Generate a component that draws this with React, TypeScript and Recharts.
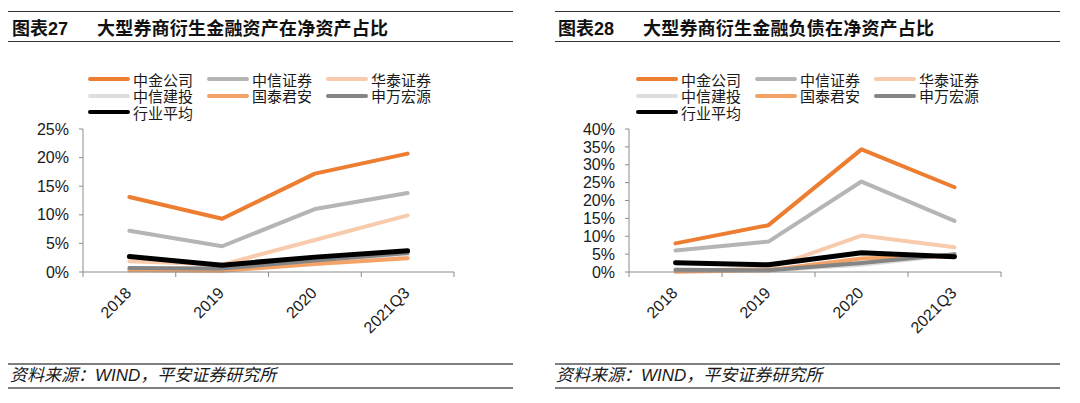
import React from 'react';
import { LineChart, Line, XAxis, YAxis } from 'recharts';

const CATEGORIES = ['2018', '2019', '2020', '2021Q3'];
const SERIES_NAMES = ['中金公司', '中信证券', '华泰证券', '中信建投', '国泰君安', '申万宏源', '行业平均'];
const SERIES_KEYS = ['zj', 'zx', 'ht', 'zxjt', 'gtja', 'sw', 'avg'];
const COLORS = ['#ED7D31', '#B5B5B5', '#F8CBAD', '#DEDEDE', '#F4A266', '#858585', '#000000'];

// 衍生金融资产 / 净资产 (%)
const ASSET_ZJ = [13.1, 9.3, 17.2, 20.7];
const ASSET_ZX = [7.2, 4.5, 11.0, 13.8];
const ASSET_HT = [1.9, 1.3, 5.6, 9.9];
const ASSET_ZXJT = [0.5, 0.3, 1.6, 3.0];
const ASSET_GTJA = [0.3, 0.2, 1.4, 2.4];
const ASSET_SW = [0.7, 0.6, 2.0, 3.3];
const ASSET_AVG = [2.7, 1.2, 2.6, 3.7];

// 衍生金融负债 / 净资产 (%)
const LIAB_ZJ = [8.0, 13.1, 34.3, 23.7];
const LIAB_ZX = [6.0, 8.5, 25.3, 14.3];
const LIAB_HT = [0.2, 1.0, 10.2, 6.9];
const LIAB_ZXJT = [0.5, 0.4, 2.0, 4.8];
const LIAB_GTJA = [0.1, 0.5, 3.8, 4.5];
const LIAB_SW = [0.6, 0.5, 2.5, 5.0];
const LIAB_AVG = [2.6, 2.0, 5.4, 4.3];

const ASSET_TICKS = [0, 5, 10, 15, 20, 25];
const LIAB_TICKS = [0, 5, 10, 15, 20, 25, 30, 35, 40];

const FONT = "'Liberation Sans', Arial, 'Noto Sans CJK SC', sans-serif";
const AXIS_COLOR = '#8c8c8c';

function buildRows(series: number[][]) {
  return CATEGORIES.map((cat, i) => {
    const row: Record<string, string | number> = { cat };
    SERIES_KEYS.forEach((k, j) => {
      row[k] = series[j][i];
    });
    return row;
  });
}

const assetRows = buildRows([ASSET_ZJ, ASSET_ZX, ASSET_HT, ASSET_ZXJT, ASSET_GTJA, ASSET_SW, ASSET_AVG]);
const liabRows = buildRows([LIAB_ZJ, LIAB_ZX, LIAB_HT, LIAB_ZXJT, LIAB_GTJA, LIAB_SW, LIAB_AVG]);

const makeTick = (bandW: number) => (props: any) => {
  const { x, y, payload, index } = props;
  const last = index === CATEGORIES.length - 1;
  return (
    <g>
      <line x1={x - bandW / 2} y1={y} x2={x - bandW / 2} y2={y + 5} stroke={AXIS_COLOR} />
      {last && <line x1={x + bandW / 2} y1={y} x2={x + bandW / 2} y2={y + 5} stroke={AXIS_COLOR} />}
      <text
        x={x + 3}
        y={y + 22}
        textAnchor="end"
        transform={`rotate(-45, ${x + 3}, ${y + 22})`}
        fontSize={16}
        fontFamily={FONT}
        fill="#1a1a1a"
      >
        {payload.value}
      </text>
    </g>
  );
};

interface PanelProps {
  left: number;
  num: string;
  title: string;
  rows: Record<string, string | number>[];
  ticks: number[];
  yWidth: number;
  rightMargin: number;
  legendX: number;
  titleX: number;
  nameX: number;
}

function Panel({ left, num, title, rows, ticks, yWidth, rightMargin, legendX, titleX, nameX }: PanelProps) {
  const chartW = 540;
  const bandW = (chartW - rightMargin - yWidth) / CATEGORIES.length;
  const ruleX = left ? 15 : 8;
  return (
    <div style={{ position: 'absolute', left, top: 0, width: 540, height: 403, fontFamily: FONT }}>
      <div style={{ position: 'absolute', left: ruleX, top: 11, width: 505, height: 0, borderTop: '1.5px solid #333' }} />
      <div style={{ position: 'absolute', left: titleX, top: 18, fontSize: 18, fontWeight: 'bold', lineHeight: '22px', color: '#111' }}>{num}</div>
      <div style={{ position: 'absolute', left: nameX, top: 18, fontSize: 18, fontWeight: 'bold', lineHeight: '22px', color: '#111', letterSpacing: 0.2 }}>{title}</div>
      <div style={{ position: 'absolute', left: ruleX, top: 41, width: 505, height: 0, borderTop: '1.5px solid #333' }} />

      {SERIES_NAMES.map((name, i) => (
        <div
          key={name}
          style={{
            position: 'absolute',
            left: legendX + (i % 3) * 119,
            top: 70 + Math.floor(i / 3) * 16.7,
            height: 18,
            display: 'flex',
            alignItems: 'center',
            fontSize: 15,
            color: '#1a1a1a',
            whiteSpace: 'nowrap',
          }}
        >
          <span style={{ display: 'inline-block', width: 42, height: 4, borderRadius: 2, background: COLORS[i], marginRight: 3 }} />
          {name}
        </div>
      ))}

      <div style={{ position: 'absolute', left: 0, top: 0 }}>
        <LineChart width={chartW} height={340} data={rows} margin={{ top: 129, right: rightMargin, bottom: 8, left: 0 }}>
          <XAxis
            dataKey="cat"
            type="category"
            scale="band"
            interval={0}
            height={60}
            tickLine={false}
            tickSize={0}
            tickMargin={0}
            axisLine={{ stroke: AXIS_COLOR }}
            tick={makeTick(bandW)}
          />
          <YAxis
            type="number"
            width={yWidth}
            domain={[0, ticks[ticks.length - 1]]}
            ticks={ticks}
            interval={0}
            tickSize={4}
            tickMargin={10}
            tickFormatter={(v: number) => `${v}%`}
            axisLine={{ stroke: AXIS_COLOR }}
            tickLine={{ stroke: AXIS_COLOR }}
            tick={{ fontSize: 16, fill: '#1a1a1a', fontFamily: FONT }}
          />
          {SERIES_KEYS.map((k, i) => (
            <Line
              key={k}
              type="linear"
              dataKey={k}
              name={SERIES_NAMES[i]}
              stroke={COLORS[i]}
              strokeWidth={k === 'avg' ? 5 : 4}
              strokeLinecap="round"
              strokeLinejoin="round"
              dot={false}
              activeDot={false}
              isAnimationActive={false}
            />
          ))}
        </LineChart>
      </div>

      <div style={{ position: 'absolute', left: ruleX, top: 363, width: 505, height: 0, borderTop: '2px solid #7f7f7f' }} />
      <div
        style={{
          position: 'absolute',
          left: left ? 16 : 10,
          top: 366,
          fontSize: 17,
          fontStyle: 'italic',
          lineHeight: '20px',
          color: '#1a1a1a',
          whiteSpace: 'nowrap',
        }}
      >
        资料来源：WIND，平安证券研究所
      </div>
      <div style={{ position: 'absolute', left: ruleX, top: 387, width: 505, height: 0, borderTop: '2px solid #7f7f7f' }} />
    </div>
  );
}

export default function App() {
  return (
    <div style={{ position: 'absolute', left: 0, top: 0, width: 1080, height: 403, background: '#fff', overflow: 'hidden' }}>
      <Panel
        left={0}
        num="图表27"
        title="大型券商衍生金融资产在净资产占比"
        rows={assetRows}
        ticks={ASSET_TICKS}
        yWidth={83}
        rightMargin={86}
        legendX={88}
        titleX={12}
        nameX={97}
      />
      <Panel
        left={540}
        num="图表28"
        title="大型券商衍生金融负债在净资产占比"
        rows={liabRows}
        ticks={LIAB_TICKS}
        yWidth={89}
        rightMargin={79}
        legendX={96}
        titleX={18}
        nameX={103}
      />
    </div>
  );
}
